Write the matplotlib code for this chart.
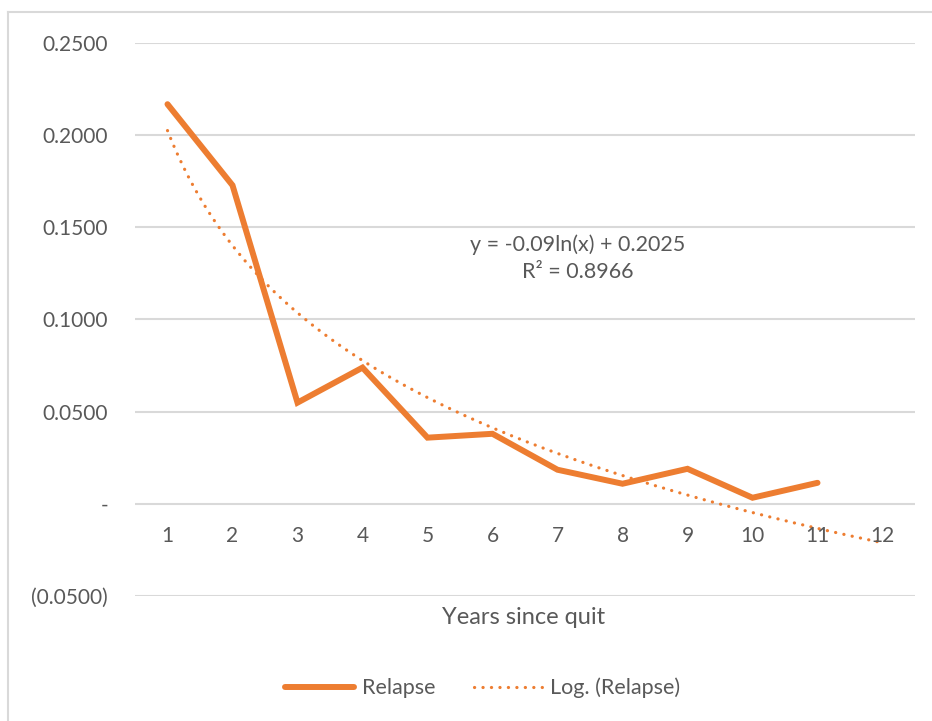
import numpy as np
import matplotlib
matplotlib.use("Agg")
import matplotlib.pyplot as plt
from matplotlib.lines import Line2D

years = [1, 2, 3, 4, 5, 6, 7, 8, 9, 10, 11]
relapse = [0.2168, 0.1728, 0.0549, 0.0739, 0.0359, 0.0380, 0.0185, 0.0109, 0.0190, 0.0033, 0.0114]
x_categories = [1, 2, 3, 4, 5, 6, 7, 8, 9, 10, 11, 12]
trend_slope = -0.09
trend_intercept = 0.2025
r_squared = 0.8966
y_ticks = [-0.05, 0.0, 0.05, 0.10, 0.15, 0.20, 0.25]
y_tick_labels = ["(0.0500)", "-", "0.0500", "0.1000", "0.1500", "0.2000", "0.2500"]

ORANGE = "#ED7D31"
GRAY_TEXT = "#595959"
GRID = "#D9D9D9"
FONT = ["Lato", "DejaVu Sans"]
plt.rcParams['font.family'] = FONT

W, H = 932, 721
PX = 0.72  # points per pixel at dpi 100
fig = plt.figure(figsize=(W / 100, H / 100), dpi=100)
fig.patch.set_facecolor("white")

# chart border (top and left visible)
fig.add_artist(Line2D([8 / W, 1], [1 - 12 / H, 1 - 12 / H], color=GRID, lw=1.5))
fig.add_artist(Line2D([8 / W, 8 / W], [1 - 12 / H, 0], color=GRID, lw=1.5))

left, right = 135 / W, 915 / W
top, bottom = 1 - 43 / H, 1 - 596 / H
ax = fig.add_axes([left, bottom, right - left, top - bottom])

ax.set_xlim(0.5, 12.5)
ax.set_ylim(-0.05, 0.25)
for s in ax.spines.values():
    s.set_visible(False)
ax.set_yticks(y_ticks)
ax.set_yticklabels(y_tick_labels)
ax.tick_params(axis='y', length=0, pad=27 * PX, labelsize=15, labelcolor=GRAY_TEXT)
ax.set_xticks([])
ax.grid(axis='y', color=GRID, lw=1.5)
ax.set_axisbelow(True)

for c in x_categories:
    ax.annotate(str(c), (c, 0), xytext=(0, -32 * PX), textcoords='offset points',
                ha='center', va='center', fontsize=15, color=GRAY_TEXT)

ax.plot(years, relapse, color=ORANGE, lw=4.3, solid_capstyle='round',
        solid_joinstyle='miter', label="Relapse", zorder=3)

DOT = (0, (0.05, 2.6))
xt = np.linspace(x_categories[0], x_categories[-1], 400)
yt = trend_slope * np.log(xt) + trend_intercept
ax.plot(xt, yt, color=ORANGE, lw=2.3, linestyle=DOT, dash_capstyle='round',
        label="Log. (Relapse)", zorder=2)

eq = f"y = {trend_slope:g}ln(x) + {trend_intercept:.4f}\nR² = {r_squared:.4f}"
fig.text(578 / W, 1 - 258 / H, eq, ha='center', va='center', fontsize=15.5,
         color=GRAY_TEXT, linespacing=1.45)

fig.text(524 / W, 1 - 617 / H, "Years since quit", ha='center', va='center',
         fontsize=17, color=GRAY_TEXT)

leg = fig.legend(loc='center', bbox_to_anchor=(483 / W, 1 - 688 / H), ncol=2,
                 frameon=False, fontsize=15.5, handlelength=3.2, columnspacing=1.8,
                 handletextpad=0.35)
for t in leg.get_texts():
    t.set_color(GRAY_TEXT)

fig.savefig("out.png", dpi=100, facecolor="white")
